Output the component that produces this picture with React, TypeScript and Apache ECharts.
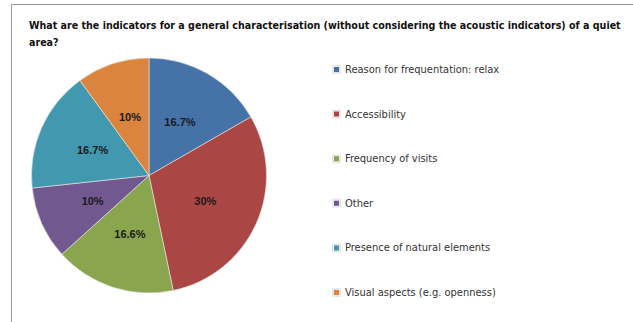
import React, { useEffect, useRef } from "react";
import * as echarts from "echarts";

const titleText =
  "What are the indicators for a general characterisation (without considering the acoustic indicators) of a quiet\narea?";
const categories = [
  "Reason for frequentation: relax",
  "Accessibility",
  "Frequency of visits",
  "Other",
  "Presence of natural elements",
  "Visual aspects (e.g. openness)",
];
const shares = [16.7, 30, 16.6, 10, 16.7, 10];
const sliceColors = ["#4572A7", "#AA4643", "#89A54E", "#71588F", "#4198AF", "#DB843D"];

const narrow = "'DejaVu Sans Condensed', 'Liberation Sans', sans-serif";

export default function App() {
  const ref = useRef<HTMLDivElement>(null);

  useEffect(() => {
    if (!ref.current) return;
    const chart = echarts.init(ref.current, null, { renderer: "svg" });
    chart.setOption({
      animation: false,
      backgroundColor: "#ffffff",
      color: sliceColors,
      title: {
        text: titleText,
        left: 29,
        top: 16,
        padding: 0,
        textStyle: {
          fontFamily: narrow,
          fontSize: 10.6,
          fontWeight: "bold",
          color: "#111111",
          lineHeight: 17,
        },
      },
      legend: {
        orient: "vertical",
        left: 327,
        top: 58,
        itemGap: 31.6,
        itemWidth: 7,
        itemHeight: 7,
        icon: "rect",
        data: categories,
        textStyle: {
          fontFamily: narrow,
          fontSize: 11,
          color: "#333333",
          lineHeight: 13,
        },
      },
      graphic: [
        {
          type: "line",
          shape: { x1: 11, y1: 4.5, x2: 633, y2: 4.5 },
          style: { stroke: "#9a9a9a", lineWidth: 1 },
        },
        {
          type: "line",
          shape: { x1: 11.5, y1: 4, x2: 11.5, y2: 322 },
          style: { stroke: "#9a9a9a", lineWidth: 1 },
        },
      ],
      series: [
        {
          type: "pie",
          center: [149, 175.5],
          radius: 117.5,
          startAngle: 90,
          clockwise: true,
          avoidLabelOverlap: false,
          label: {
            show: true,
            position: "inside",
            formatter: (p: any) => `${p.value}%`,
            fontFamily: "'Liberation Sans', sans-serif",
            fontWeight: "bold",
            fontSize: 11,
            color: "#1a1a1a",
          },
          labelLine: { show: false },
          itemStyle: { borderColor: "#e8e8e8", borderWidth: 0.6 },
          emphasis: { disabled: true },
          data: categories.map((name, i) => ({ name, value: shares[i] })),
        },
      ],
    });
    return () => chart.dispose();
  }, []);

  return (
    <div
      ref={ref}
      style={{ position: "fixed", left: 0, top: 0, width: 633, height: 322 }}
    />
  );
}
